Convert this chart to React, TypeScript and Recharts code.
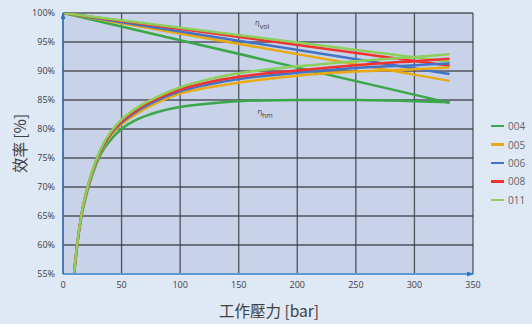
import React from 'react';
import { LineChart, Line, XAxis, YAxis, CartesianGrid, ReferenceDot } from 'recharts';

const seriesNames = ['004', '005', '006', '008', '011'];
const seriesColors = ['#3aa848', '#e8a912', '#4472c4', '#f2322f', '#8ccf5a'];

const hmPressure = [9.4, 12, 15.4, 20.8, 28.7, 35, 42.7, 50, 65, 80, 100, 125, 150, 200, 250, 300, 330];
const hm004 = [55, 59.7, 64.5, 69.3, 74.1, 76.6, 78.6, 80.0, 81.8, 82.9, 83.8, 84.4, 84.8, 85.0, 85.0, 84.8, 84.6];
const hm005 = [55, 59.8, 64.7, 69.6, 74.4, 77.1, 79.3, 80.8, 82.9, 84.5, 86.1, 87.2, 88.0, 89.2, 89.9, 90.3, 90.6];
const hm006 = [55, 59.8, 64.8, 69.7, 74.6, 77.3, 79.6, 81.1, 83.3, 84.9, 86.5, 87.7, 88.6, 89.7, 90.5, 91.0, 91.3];
const hm008 = [55, 59.9, 64.9, 69.8, 74.8, 77.5, 79.8, 81.3, 83.6, 85.2, 86.8, 88.1, 89.0, 90.1, 91.0, 91.7, 92.1];
const hm011 = [55, 59.9, 64.9, 69.9, 74.9, 77.7, 80.0, 81.6, 83.9, 85.5, 87.2, 88.6, 89.6, 90.8, 91.7, 92.4, 92.9];

const volPressure = [0, 330];
const vol004 = [100, 84.5];
const vol005 = [100, 88.3];
const vol006 = [100, 89.5];
const vol008 = [100, 90.9];
const vol011 = [100, 91.6];

const xTicks = [0, 50, 100, 150, 200, 250, 300, 350];
const yTicks = [55, 60, 65, 70, 75, 80, 85, 90, 95, 100];

const xTitle = '工作壓力 [bar]';
const yTitle = '效率 [%]';
const volNote = { x: 164, y: 97.9, main: 'η', sub: 'vol' };
const hmNote = { x: 166, y: 82.6, main: 'η', sub: 'hm' };

const hmSeries = [hm004, hm005, hm006, hm008, hm011];
const volSeries = [vol004, vol005, vol006, vol008, vol011];

const toPoints = (xs: number[], ys: number[]) => xs.map((x, i) => ({ x, y: ys[i] }));

const FONT = '"Open Sans", "Liberation Sans", sans-serif';
const CJK = '"Noto Sans CJK TC", "Noto Sans", sans-serif';

const noteLabel = (note: { main: string; sub: string }) => (props: any) => {
  const vb = props.viewBox || {};
  return (
    <text x={vb.x} y={vb.y} fill="#404040" fontFamily={FONT} fontSize={7.5}>
      <tspan>{note.main}</tspan>
      <tspan dy={4} fontSize={7}>{note.sub}</tspan>
    </text>
  );
};

const YTitle = (props: any) => {
  const vb = props.viewBox || {};
  const cx = vb.x + 19;
  const cy = vb.y + vb.height / 2;
  return (
    <text x={cx} y={cy} transform={`rotate(-90 ${cx} ${cy})`} textAnchor="middle" dominantBaseline="central"
      fill="#404040" fontFamily={CJK} fontSize={15.5}>{yTitle}</text>
  );
};

const XTitle = (props: any) => {
  const vb = props.viewBox || {};
  const cx = vb.x + vb.width / 2;
  return (
    <text x={cx + 1} y={317} textAnchor="middle" fill="#404040" fontFamily={CJK} fontSize={15.5}>{xTitle}</text>
  );
};

export default function App() {
  return (
    <div style={{ position: 'absolute', left: 0, top: 0, width: 532, height: 324, background: '#dfe8f5' }}>
      <LineChart width={532} height={324} margin={{ top: 13, right: 59, bottom: 0, left: 0 }}>
        <defs>
          <marker id="axArrow" markerWidth="7" markerHeight="5" refX="6" refY="2.5" orient="auto-start-reverse" markerUnits="userSpaceOnUse">
            <path d="M0,0 L7,2.5 L0,5 z" fill="#2e75c6" />
          </marker>
        </defs>
        <CartesianGrid fill="#c8d3e9" fillOpacity={1} stroke="#3c3c44" strokeWidth={1.3} strokeOpacity={0.85} />
        <XAxis type="number" dataKey="x" domain={[0, 350]} ticks={xTicks} height={50} allowDataOverflow
          axisLine={{ stroke: '#5b9bd5', strokeWidth: 2, markerEnd: 'url(#axArrow)' }} tickLine={false}
          tick={{ fill: '#404040', fontSize: 9, fontFamily: FONT }} label={<XTitle />} />
        <YAxis type="number" dataKey="y" domain={[55, 100]} ticks={yTicks} width={63} allowDataOverflow
          tickFormatter={(v: number) => `${v}%`}
          axisLine={{ stroke: '#2e75c6', strokeWidth: 1.3, markerStart: 'url(#axArrow)' }} tickLine={false}
          tick={{ fill: '#404040', fontSize: 9, fontFamily: FONT }} label={<YTitle />} />
        {seriesNames.map((name, i) => (
          <Line key={'vol' + name} data={toPoints(volPressure, volSeries[i])} dataKey="y" type="linear"
            stroke={seriesColors[i]} strokeWidth={2.5} dot={false} activeDot={false} isAnimationActive={false} />
        ))}
        {seriesNames.map((name, i) => (
          <Line key={'hm' + name} data={toPoints(hmPressure, hmSeries[i])} dataKey="y" type="monotone"
            stroke={seriesColors[i]} strokeWidth={2.5} dot={false} activeDot={false} isAnimationActive={false} />
        ))}
        <ReferenceDot x={volNote.x} y={volNote.y} r={0} fill="none" stroke="none" ifOverflow="visible" label={noteLabel(volNote)} />
        <ReferenceDot x={hmNote.x} y={hmNote.y} r={0} fill="none" stroke="none" ifOverflow="visible" label={noteLabel(hmNote)} />
      </LineChart>
      <div style={{ position: 'absolute', left: 491, top: 117, fontFamily: FONT, fontSize: 10, color: '#666' }}>
        {seriesNames.map((name, i) => (
          <div key={name} style={{ height: 18.4, display: 'flex', alignItems: 'center' }}>
            <span style={{ display: 'inline-block', width: 13, height: 2.5, background: seriesColors[i], marginRight: 4 }} />
            <span>{name}</span>
          </div>
        ))}
      </div>
    </div>
  );
}
